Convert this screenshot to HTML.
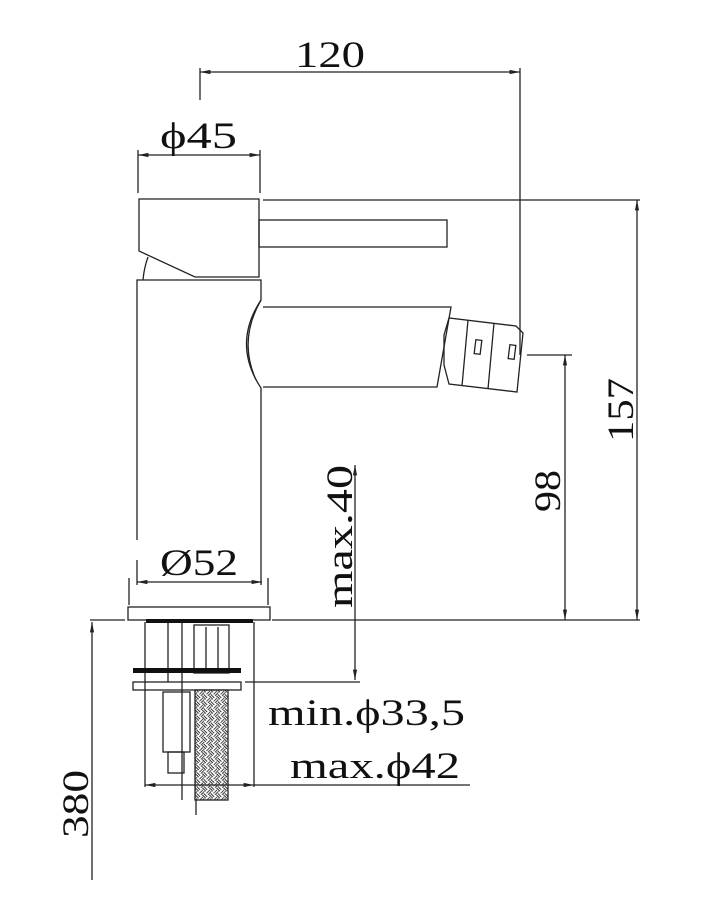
<!DOCTYPE html>
<html><head><style>body{margin:0;background:#fff}svg{display:block}text{font-family:"Liberation Serif",serif;font-size:37px;fill:#111}</style></head><body>
<svg width="721" height="921" viewBox="0 0 721 921" xmlns="http://www.w3.org/2000/svg">
<defs>
<pattern id="h" width="10" height="10" patternUnits="userSpaceOnUse" patternTransform="rotate(45)">
<rect width="10" height="10" fill="#fff"/><path d="M0 2H5M0 4H5M5 7H10M5 9H10M7 0V5M9 0V5M2 5V10M4 5V10" stroke="#333" stroke-width="0.9"/></pattern>
<marker id="a" viewBox="0 0 10 10" refX="10" refY="5" markerWidth="8" markerHeight="8" orient="auto-start-reverse"><path d="M0 3L10 5L0 7z" fill="#222"/></marker>
</defs>
<g stroke="#222" stroke-width="1.3" fill="none">
<line x1="200" y1="72" x2="520" y2="72" marker-start="url(#a)" marker-end="url(#a)"/>
<line x1="200" y1="68" x2="200" y2="100"/><line x1="520" y1="68" x2="520" y2="355"/>
<line x1="138" y1="155" x2="260" y2="155" marker-start="url(#a)" marker-end="url(#a)"/>
<line x1="138" y1="150" x2="138" y2="193"/><line x1="260" y1="150" x2="260" y2="193"/>
<path d="M139 199H259V277H195L139 251Z"/>
<rect x="259" y="220" width="188" height="27"/>
<line x1="263" y1="200" x2="640" y2="200"/>
<path d="M148 257Q144 268 143 280"/>
<path d="M137 540V280H261V300Q232 344 261 388V585"/>
<path d="M261 300Q238 340 256 380"/>
<path d="M137 560V585"/>
<path d="M263 307H451L437 387H263"/>
<path d="M444 335L449 318L516 326L523 333L517 392L449 384L444 365Z"/>
<line x1="468" y1="320" x2="462" y2="386"/><line x1="494" y1="323" x2="488" y2="389"/>
<rect x="475" y="340" width="6" height="14" transform="rotate(7 478 347)"/>
<rect x="509" y="345" width="6" height="14" transform="rotate(7 512 352)"/>
<line x1="527" y1="355" x2="572" y2="355"/>
<line x1="565" y1="355" x2="565" y2="620" marker-start="url(#a)" marker-end="url(#a)"/>
<line x1="637" y1="200" x2="637" y2="620" marker-start="url(#a)" marker-end="url(#a)"/>
<rect x="128" y="607" width="142" height="13"/>
<line x1="137" y1="582" x2="262" y2="582" marker-start="url(#a)" marker-end="url(#a)"/>
<line x1="129" y1="578" x2="129" y2="605"/><line x1="268" y1="578" x2="268" y2="605"/>
<line x1="90" y1="620" x2="125" y2="620"/><line x1="272" y1="620" x2="640" y2="620"/>
<line x1="355" y1="465" x2="355" y2="680" marker-start="url(#a)" marker-end="url(#a)"/>
<line x1="245" y1="682" x2="360" y2="682"/>
<line x1="145" y1="622" x2="145" y2="787"/><line x1="254" y1="622" x2="254" y2="787"/>
<line x1="168" y1="622" x2="168" y2="682"/><line x1="182" y1="622" x2="182" y2="800"/>
<rect x="194" y="625" width="35" height="48"/>
<line x1="206" y1="627" x2="206" y2="671"/><line x1="218" y1="627" x2="218" y2="671"/>
<rect x="133" y="682" width="108" height="8"/>
<rect x="163" y="692" width="27" height="60"/>
<rect x="168" y="752" width="16" height="21"/>
<rect x="195" y="690" width="33" height="110" fill="url(#h)"/>
<line x1="145" y1="785" x2="254" y2="785" marker-start="url(#a)" marker-end="url(#a)"/>
<line x1="254" y1="785" x2="470" y2="785"/>
<line x1="92" y1="622" x2="92" y2="880" marker-start="url(#a)"/>
<line x1="196" y1="800" x2="196" y2="815"/>
</g>
<rect x="146" y="619" width="107" height="4" fill="#111"/>
<rect x="133" y="668" width="108" height="5" fill="#111"/>
<text x="295" y="67" textLength="70" lengthAdjust="spacingAndGlyphs">120</text>
<text x="160" y="148" textLength="77" lengthAdjust="spacingAndGlyphs">ϕ45</text>
<text x="160" y="575" textLength="78" lengthAdjust="spacingAndGlyphs">Ø52</text>
<text x="268" y="725" textLength="197" lengthAdjust="spacingAndGlyphs">min.ϕ33,5</text>
<text x="290" y="778" textLength="170" lengthAdjust="spacingAndGlyphs">max.ϕ42</text>
<text transform="translate(352 608) rotate(-90)" textLength="143" lengthAdjust="spacingAndGlyphs">max.40</text>
<text transform="translate(560 512) rotate(-90)" textLength="42" lengthAdjust="spacingAndGlyphs">98</text>
<text transform="translate(633 442) rotate(-90)" textLength="64" lengthAdjust="spacingAndGlyphs">157</text>
<text transform="translate(88 838) rotate(-90)" textLength="68" lengthAdjust="spacingAndGlyphs">380</text>
</svg>
</body></html>
